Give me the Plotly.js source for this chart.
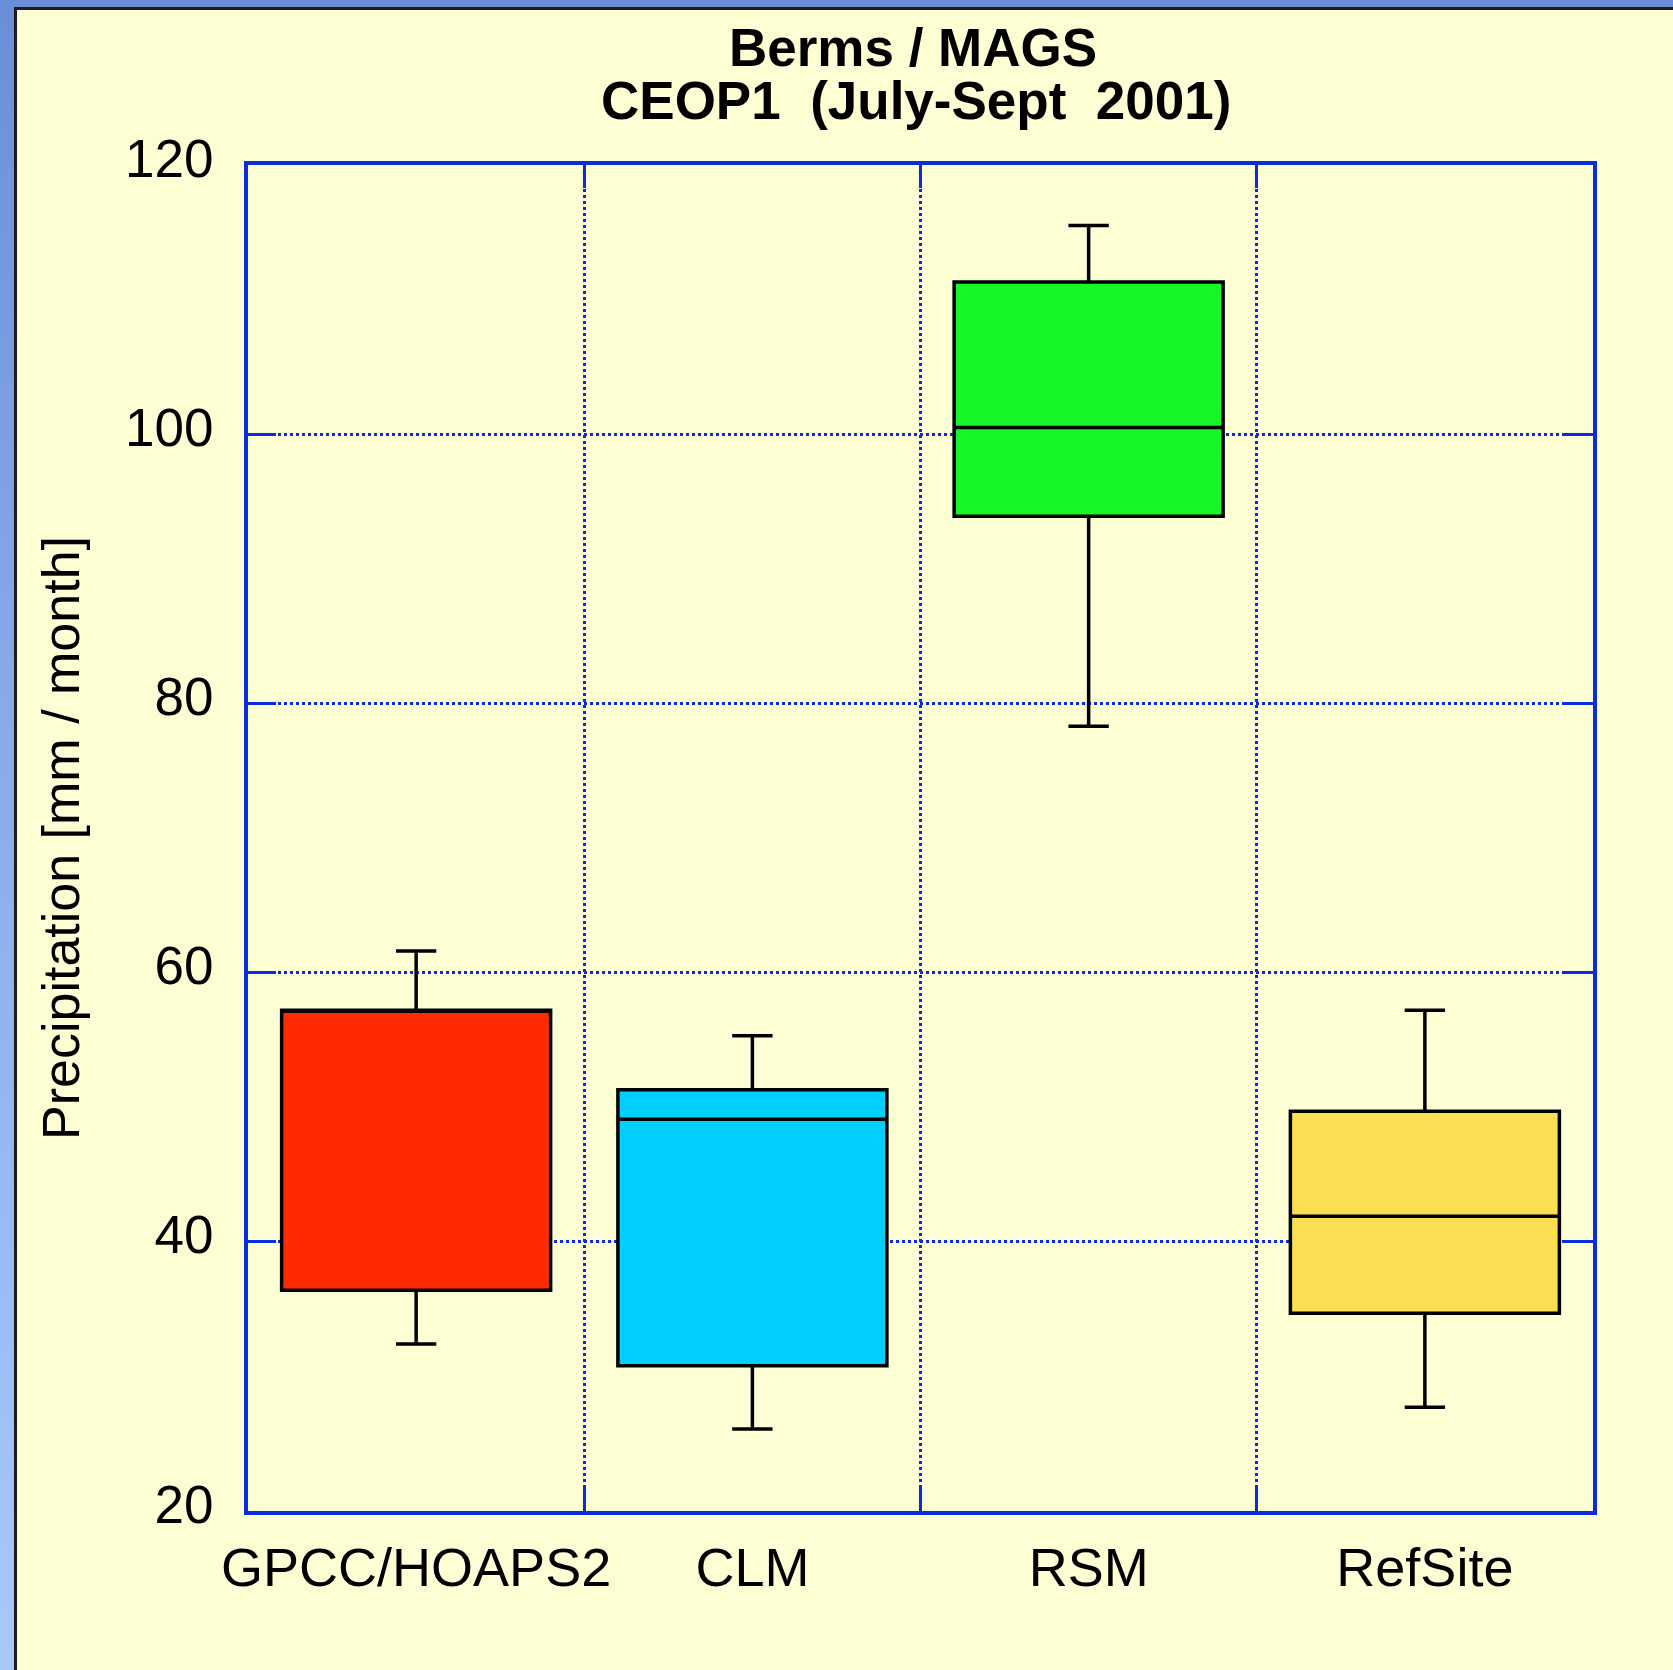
<!DOCTYPE html>
<html>
<head>
<meta charset="utf-8">
<script src="https://cdn.plot.ly/plotly-3.0.1.min.js"></script>
<style>
  html, body { margin:0; padding:0; width:1673px; height:1670px; overflow:hidden; }
  body { background: linear-gradient(180deg, #6a8fd8 0%, #86a9e8 40%, #a9c9fb 100%); position:relative; }
  #panel { position:absolute; left:14px; top:7px; right:0; bottom:0; background:#FEFED5;
           border-left:3px solid #1c1c1c; border-top:3px solid #1c1c1c; }
  #chart { position:absolute; left:0; top:0; width:1673px; height:1670px; }
</style>
</head>
<body>
<div id="panel"></div>
<div id="chart"></div>
<script>
// ---- data ----
const categories   = ["GPCC/HOAPS2", "CLM", "RSM", "RefSite"];
const lowerWhisker = [32.4, 26.1, 78.3, 27.7];
const q1Values     = [36.4, 30.8, 93.9, 34.7];
const medianValues = [57.2, 49.1, 100.5, 41.9];
const q3Values     = [57.2, 51.3, 111.3, 49.7];
const upperWhisker = [61.6, 55.3, 115.5, 57.2];
const boxColors    = ["#FF2A00", "#00CFFF", "#16F72A", "#FCDE52"];
const yTicks       = [20, 40, 60, 80, 100, 120];
const titleLine1   = "Berms / MAGS";
const titleLine2   = "CEOP1 \u00a0(July-Sept \u00a02001)";
const yTitle       = "Precipitation [mm / month]";

const FONT = "Liberation Sans, Arial, Helvetica, sans-serif";
const BLUE = "#0b2be0";

const traces = categories.map((c, i) => ({
  type: "box",
  name: c,
  x: [c],
  q1: [q1Values[i]],
  median: [medianValues[i]],
  q3: [q3Values[i]],
  lowerfence: [lowerWhisker[i]],
  upperfence: [upperWhisker[i]],
  fillcolor: boxColors[i],
  line: { color: "#000000", width: 3.5 },
  width: 0.8,
  whiskerwidth: 0.15,
  boxpoints: false,
  showlegend: false,
  hoverinfo: "skip"
}));

const layout = {
  width: 1673, height: 1670,
  paper_bgcolor: "rgba(0,0,0,0)",
  plot_bgcolor: "rgba(0,0,0,0)",
  margin: { l: 248, r: 80, t: 165, b: 159, pad: 0 },
  showlegend: false,
  title: {
    text: "<b>" + titleLine1 + "</b>",
    font: { family: FONT, size: 53, color: "#000" },
    xref: "container", x: 913 / 1673, xanchor: "center",
    yref: "container", y: 1 - 47 / 1670, yanchor: "middle"
  },
  annotations: [{
    text: "<b>" + titleLine2 + "</b>",
    font: { family: FONT, size: 53, color: "#000" },
    xref: "paper", x: (916 - 248) / 1345, xanchor: "center",
    yref: "paper", y: (1511 - 101) / 1346, yanchor: "middle",
    showarrow: false
  }],
  xaxis: {
    type: "category",
    categoryorder: "array", categoryarray: categories,
    range: [-0.5, 3.5],
    tickson: "boundaries",
    ticks: "inside", ticklen: 23, tickwidth: 3, tickcolor: BLUE,
    showline: true, linecolor: BLUE, linewidth: 4, mirror: "allticks",
    showgrid: true, gridcolor: BLUE, gridwidth: 3, griddash: "dot",
    tickfont: { family: FONT, size: 54, color: "#000" },
    tickangle: 0,
    ticklabelstandoff: 6,
    zeroline: false, fixedrange: true
  },
  yaxis: {
    range: [20, 120],
    tickmode: "array", tickvals: yTicks, ticktext: yTicks.map(String),
    ticks: "inside", ticklen: 28, tickwidth: 3, tickcolor: BLUE,
    showline: true, linecolor: BLUE, linewidth: 4, mirror: "allticks",
    showgrid: true, gridcolor: BLUE, gridwidth: 3, griddash: "dot",
    tickfont: { family: FONT, size: 53, color: "#000" },
    ticklabelstandoff: 20,
    ticklabelshift: -7,
    zeroline: false, fixedrange: true,
    title: { text: yTitle, font: { family: FONT, size: 52, color: "#000" }, standoff: 30 },
    automargin: false
  }
};

Plotly.newPlot("chart", traces, layout, { staticPlot: true, displayModeBar: false });
</script>
</body>
</html>
